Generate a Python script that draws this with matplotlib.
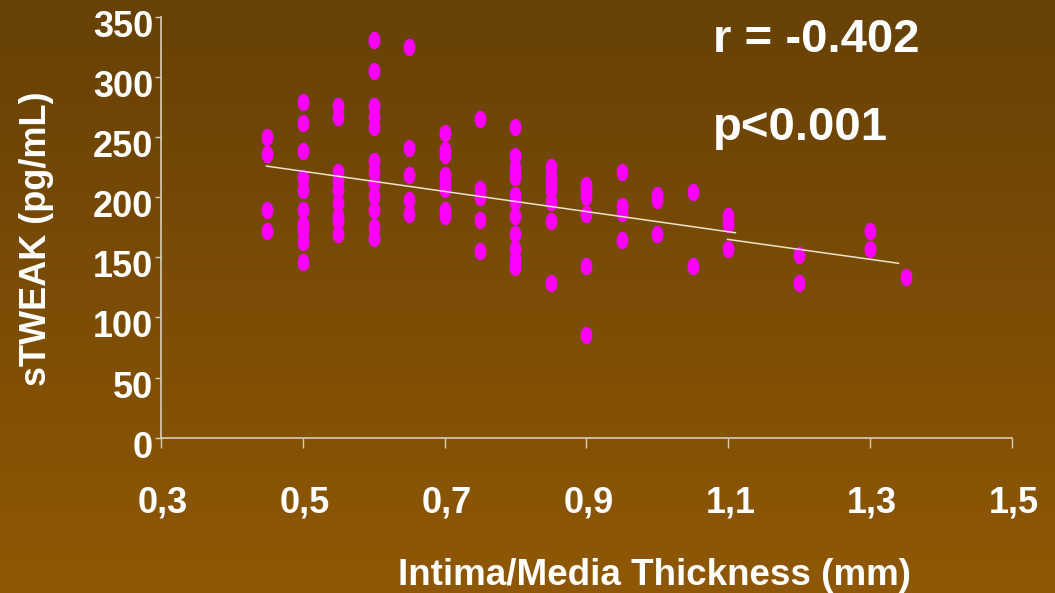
import numpy as np
import matplotlib
matplotlib.use("Agg")
import matplotlib.pyplot as plt
import matplotlib.transforms as mtransforms
from matplotlib.path import Path

plt.rcParams['font.family'] = ['Liberation Sans', 'DejaVu Sans']
plt.rcParams['font.weight'] = 'bold'

# ---- data ----
imt_levels = [0.45, 0.50, 0.55, 0.60, 0.65, 0.70, 0.75, 0.80, 0.85, 0.90,
              0.95, 1.00, 1.05, 1.10, 1.20, 1.30, 1.35]
tweak_045 = [250, 236, 189, 172]
tweak_050 = [279, 262, 238, 216, 206, 189, 178, 172, 163, 146]
tweak_055 = [276, 267, 221, 214, 206, 195, 184, 180, 169]
tweak_060 = [331, 305, 276, 267, 258, 230, 221, 212, 201, 189, 175, 166]
tweak_065 = [325, 241, 218, 198, 186]
tweak_070 = [253, 239, 235, 218, 212, 207, 189, 184]
tweak_075 = [265, 207, 200, 181, 155]
tweak_080 = [258, 234, 224, 217, 202, 196, 184, 169, 157, 148, 142]
tweak_085 = [225, 217, 211, 206, 196, 180, 129]
tweak_090 = [210, 205, 200, 186, 143, 85]
tweak_095 = [221, 193, 187, 164]
tweak_100 = [202, 198, 169]
tweak_105 = [204, 143]
tweak_110 = [184, 178, 157]
tweak_120 = [152, 129]
tweak_130 = [172, 157]
tweak_135 = [134]
tweak_groups = [tweak_045, tweak_050, tweak_055, tweak_060, tweak_065, tweak_070,
                tweak_075, tweak_080, tweak_085, tweak_090, tweak_095, tweak_100,
                tweak_105, tweak_110, tweak_120, tweak_130, tweak_135]

fit1_x = [0.449, 1.110]
fit1_y = [225.8, 170.4]
fit2_x = [1.099, 1.340]
fit2_y = [164.9, 145.0]

x_ticks = [0.3, 0.5, 0.7, 0.9, 1.1, 1.3, 1.5]
x_tick_labels = ['0,3', '0,5', '0,7', '0,9', '1,1', '1,3', '1,5']
y_ticks = [0, 50, 100, 150, 200, 250, 300, 350]

xs = []
ys = []
for lvl, grp in zip(imt_levels, tweak_groups):
    xs.extend([lvl] * len(grp))
    ys.extend(grp)

W, H = 1055, 593
fig = plt.figure(figsize=(W / 100, H / 100), dpi=100)

# background gradient
bg = fig.add_axes([0, 0, 1, 1], zorder=-10)
top = np.array([103, 65, 5]) / 255.0
bot = np.array([143, 88, 6]) / 255.0
t = np.linspace(0, 1, 256)[:, None]
grad = top[None, :] * (1 - t) + bot[None, :] * t
bg.imshow(grad[:, None, :], aspect='auto', extent=[0, 1, 0, 1])
bg.axis('off')

ax = fig.add_axes([160.8 / W, (H - 437.7) / H, (1012 - 160.8) / W, (437.7 - 16.7) / H])
ax.set_facecolor('none')

# elliptical marker
th = np.linspace(0, 2 * np.pi, 40)
ell = Path(np.column_stack([0.68 * np.cos(th), np.sin(th)]), closed=True)

ax.plot(xs, ys, linestyle='none', marker=ell, markersize=12.5,
        markerfacecolor='#ff00ff', markeredgecolor='none', zorder=3)
line_col = '#ece2cc'
ax.plot(fit1_x, fit1_y, color=line_col, lw=1.1, zorder=4)
ax.plot(fit2_x, fit2_y, color=line_col, lw=1.1, zorder=4)

ax.set_xlim(0.3, 1.5)
ax.set_ylim(0, 350)
ax.set_xticks(x_ticks)
ax.set_xticklabels(x_tick_labels)
ax.set_yticks(y_ticks)

axis_col = '#d8cdb8'
for s in ['top', 'right']:
    ax.spines[s].set_visible(False)
for s in ['left', 'bottom']:
    ax.spines[s].set_color(axis_col)
    ax.spines[s].set_linewidth(1.2)

ax.tick_params(axis='x', direction='out', length=7.5, width=1.0, color=axis_col,
               pad=27, labelsize=26, labelcolor='white')
ax.tick_params(axis='y', direction='out', length=4.5, width=1.0, color=axis_col,
               pad=1, labelsize=26, labelcolor='white')
ydown = mtransforms.ScaledTranslation(0, -6.5 / 100, fig.dpi_scale_trans)
xshift = mtransforms.ScaledTranslation(2 / 100, 0, fig.dpi_scale_trans)
for lab in ax.get_yticklabels():
    lab.set_fontweight('bold')
    lab.set_transform(lab.get_transform() + ydown)
for lab in ax.get_xticklabels():
    lab.set_fontweight('bold')
    lab.set_transform(lab.get_transform() + xshift)

fig.text(654 / W, (H - 585) / H, 'Intima/Media Thickness (mm)', ha='center',
         va='baseline', fontsize=26.5, fontweight='bold', color='white')
fig.text(37 / W, (H - 238.5) / H, 'sTWEAK (pg/mL)', rotation=90, ha='center',
         va='center', fontsize=26, fontweight='bold', color='white')
fig.text(713 / W, (H - 51.7) / H, 'r = -0.402', ha='left', va='baseline',
         fontsize=34, fontweight='bold', color='white')
fig.text(713 / W, (H - 140) / H, 'p<0.001', ha='left', va='baseline',
         fontsize=34, fontweight='bold', color='white')

fig.savefig('out.png', dpi=100)
